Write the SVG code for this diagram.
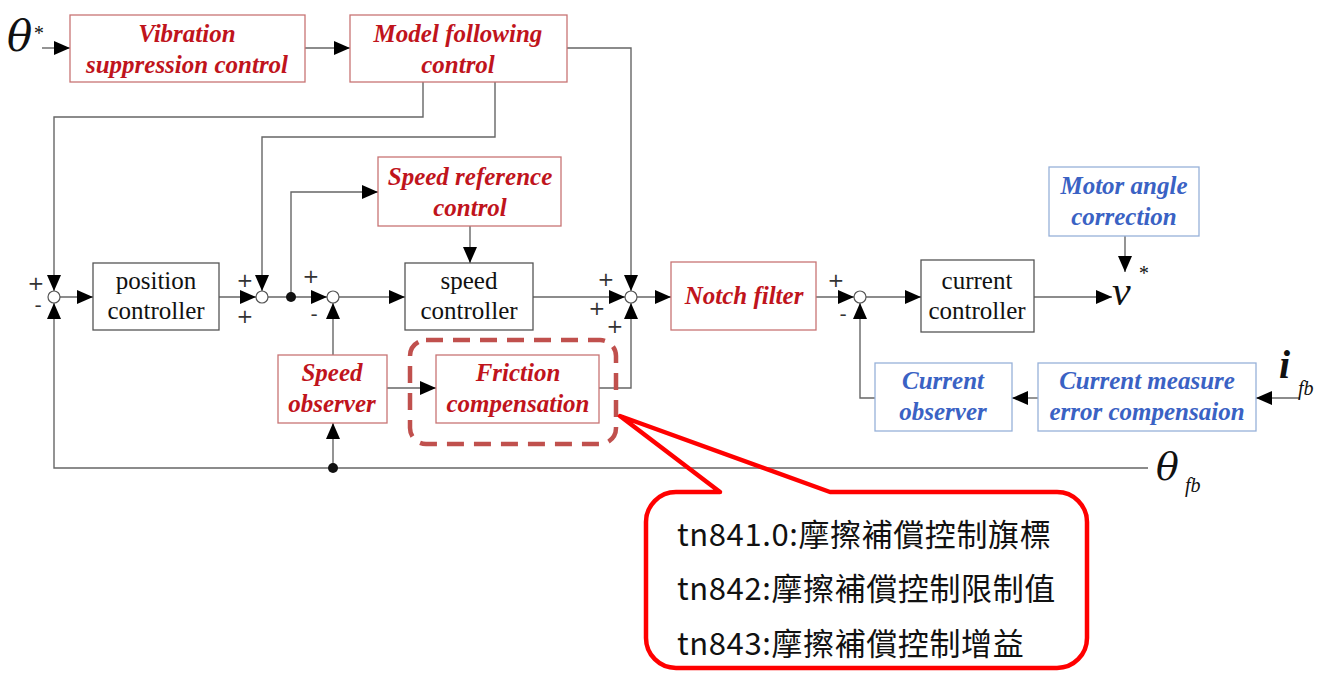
<svg xmlns="http://www.w3.org/2000/svg" width="1323" height="673" viewBox="0 0 1323 673">
<style>
.bg{fill:#ffffff}
.rbox{fill:#fff;stroke:#c87474;stroke-width:1.3}
.bbox{fill:#fff;stroke:#97b1d9;stroke-width:1.3}
.kbox{fill:#fff;stroke:#555;stroke-width:1.3}
.rt{font-family:"Liberation Serif",serif;font-weight:bold;font-style:italic;font-size:25px;fill:#c0141c;text-anchor:middle}
.bt{font-family:"Liberation Serif",serif;font-weight:bold;font-style:italic;font-size:25px;fill:#3a62c4;text-anchor:middle}
.kt{font-family:"Liberation Serif",serif;font-size:25px;fill:#111;text-anchor:middle}
.ln{fill:none;stroke:#666;stroke-width:1.4}
.arr{fill:none;stroke:#666;stroke-width:1.4;marker-end:url(#ah)}
.sum{fill:#fff;stroke:#555;stroke-width:1.2}
.dot{fill:#111}
.sg{font-family:"DejaVu Sans",sans-serif;font-size:20px;fill:#333;text-anchor:middle}
.sym{font-family:"DejaVu Serif","Liberation Serif",serif;font-style:italic;fill:#111}
.sub{font-family:"Liberation Serif",serif;font-style:italic;fill:#111}
.note{font-family:"Noto Sans CJK TC","Noto Sans",sans-serif;font-size:31px;letter-spacing:0.6px;fill:#111}
</style>
<defs>
<marker id="ah" viewBox="0 0 16 14" refX="16" refY="7" markerWidth="16" markerHeight="14" markerUnits="userSpaceOnUse" orient="auto">
<path d="M0,0 L16,7 L0,14 Z" fill="#000"/>
</marker>
</defs>
<rect class="bg" x="0" y="0" width="1323" height="673"/>

<g id="connectors">
<path class="arr" d="M42,48 H70"/>
<path class="arr" d="M305,48 H350"/>
<path class="arr" d="M567,48 H631 V291"/>
<path class="arr" d="M423,82 V117 H54 V291"/>
<path class="arr" d="M495,82 V137 H262 V291"/>
<path class="arr" d="M60,297 H93"/>
<path class="arr" d="M219,297 H256"/>
<path class="arr" d="M268,297 H327"/>
<path class="arr" d="M291,297 V192 H378"/>
<path class="arr" d="M470,226 V263"/>
<path class="arr" d="M339,297 H405"/>
<path class="arr" d="M533,297 H625"/>
<path class="arr" d="M637,297 H671"/>
<path class="arr" d="M816,297 H854"/>
<path class="arr" d="M866,297 H921"/>
<path class="arr" d="M1034,297 H1112"/>
<path class="arr" d="M1125,236 V272"/>
<path class="arr" d="M1300,398 H1256"/>
<path class="arr" d="M1038,398 H1012"/>
<path class="arr" d="M875,398 H860 V303"/>
<path class="arr" d="M333,355 V303"/>
<path class="arr" d="M387,388 H436"/>
<path class="arr" d="M599,388 H631 V303"/>
<path class="arr" d="M1148,468 H54 V303"/>
<path class="arr" d="M333,468 V423"/>
<circle class="dot" cx="291" cy="297" r="5"/>
<circle class="dot" cx="333" cy="468" r="5"/>
</g>

<g id="sums">
<circle class="sum" cx="54" cy="297" r="6"/>
<circle class="sum" cx="262" cy="297" r="6"/>
<circle class="sum" cx="333" cy="297" r="6"/>
<circle class="sum" cx="631" cy="297" r="6"/>
<circle class="sum" cx="860" cy="297" r="6"/>
<text class="sg" x="36" y="290">+</text>
<text class="sg" x="38" y="312">-</text>
<text class="sg" x="245" y="287">+</text>
<text class="sg" x="245" y="323">+</text>
<text class="sg" x="311" y="283">+</text>
<text class="sg" x="314" y="321">-</text>
<text class="sg" x="606" y="286">+</text>
<text class="sg" x="597" y="315">+</text>
<text class="sg" x="615" y="333">+</text>
<text class="sg" x="836" y="287">+</text>
<text class="sg" x="843" y="321">-</text>
</g>

<g id="vibration">
<rect class="rbox" x="70" y="15" width="235" height="67"/>
<text class="rt" x="187" y="42">Vibration</text>
<text class="rt" x="187" y="73">suppression control</text>
</g>
<g id="model-following">
<rect class="rbox" x="350" y="15" width="217" height="67"/>
<text class="rt" x="458" y="42">Model following</text>
<text class="rt" x="458" y="73">control</text>
</g>
<g id="speed-reference">
<rect class="rbox" x="378" y="157" width="183" height="69"/>
<text class="rt" x="470" y="185">Speed reference</text>
<text class="rt" x="470" y="216">control</text>
</g>
<g id="position-controller">
<rect class="kbox" x="93" y="263" width="126" height="67"/>
<text class="kt" x="156" y="289">position</text>
<text class="kt" x="156" y="319">controller</text>
</g>
<g id="speed-controller">
<rect class="kbox" x="405" y="263" width="128" height="67"/>
<text class="kt" x="469" y="289">speed</text>
<text class="kt" x="469" y="319">controller</text>
</g>
<g id="notch-filter">
<rect class="rbox" x="671" y="262" width="145" height="68"/>
<text class="rt" x="744" y="304">Notch filter</text>
</g>
<g id="current-controller">
<rect class="kbox" x="921" y="260" width="113" height="72"/>
<text class="kt" x="977" y="289">current</text>
<text class="kt" x="977" y="319">controller</text>
</g>
<g id="motor-angle">
<rect class="bbox" x="1049" y="167" width="150" height="69"/>
<text class="bt" x="1124" y="194">Motor angle</text>
<text class="bt" x="1124" y="225">correction</text>
</g>
<g id="speed-observer">
<rect class="rbox" x="278" y="355" width="109" height="68"/>
<text class="rt" x="332" y="381">Speed</text>
<text class="rt" x="332" y="412">observer</text>
</g>
<g id="friction">
<rect class="rbox" x="436" y="355" width="163" height="68"/>
<text class="rt" x="518" y="381">Friction</text>
<text class="rt" x="518" y="412">compensation</text>
</g>
<g id="current-observer">
<rect class="bbox" x="875" y="363" width="137" height="68"/>
<text class="bt" x="943" y="389">Current</text>
<text class="bt" x="943" y="420">observer</text>
</g>
<g id="current-measure">
<rect class="bbox" x="1038" y="363" width="218" height="68"/>
<text class="bt" x="1147" y="389">Current measure</text>
<text class="bt" x="1147" y="420">error compensaion</text>
</g>

<g id="symbols">
<text class="sym" x="7" y="51" font-size="42">θ</text>
<text class="sub" x="33" y="40" font-size="20" font-style="normal">*</text>
<text class="sub" x="1112" y="305" font-size="42">v</text>
<text class="sub" x="1138" y="280" font-size="20" font-style="normal">*</text>
<text class="sub" x="1279" y="378" font-size="40" font-weight="bold">i</text>
<text class="sub" x="1298" y="395" font-size="20">fb</text>
<text class="sym" x="1156" y="480" font-size="38">θ</text>
<text class="sub" x="1185" y="492" font-size="20">fb</text>
</g>

<g id="highlight">
<rect x="410" y="340" width="206" height="104" rx="16" ry="16" fill="none" stroke="#c0504d" stroke-width="4.5" stroke-dasharray="17 10"/>
</g>

<g id="callout">
<path d="M830,492 H1057 A30,30 0 0 1 1087,522 V638 A30,30 0 0 1 1057,668 H676 A30,30 0 0 1 646,638 V522 A30,30 0 0 1 676,492 H720 L620,416 Z" fill="none" stroke="#ff0000" stroke-width="4.5" stroke-linejoin="round"/>
<text class="note" x="677" y="546">tn841.0:摩擦補償控制旗標</text>
<text class="note" x="677" y="600">tn842:摩擦補償控制限制值</text>
<text class="note" x="677" y="655">tn843:摩擦補償控制增益</text>
</g>
</svg>
